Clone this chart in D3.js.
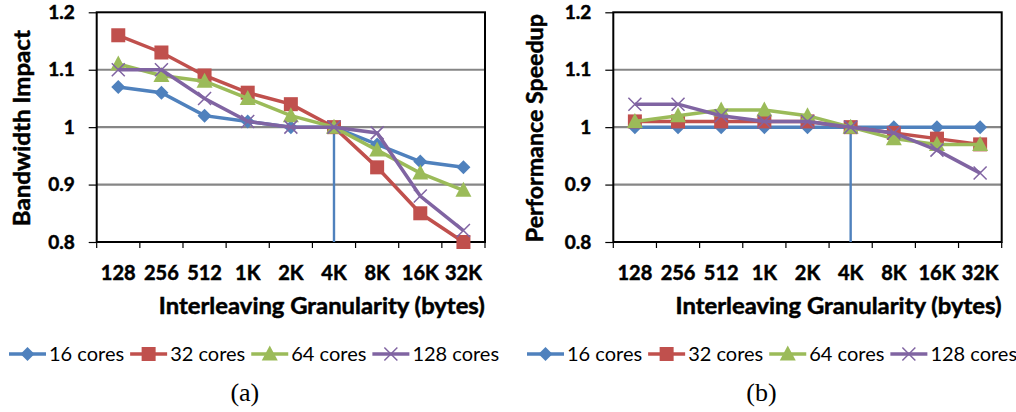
<!DOCTYPE html>
<html>
<head>
<meta charset="utf-8">
<script src="https://cdn.jsdelivr.net/npm/d3@7"></script>
<style>
body { margin: 0; background: #fff; }
text { font-family: "Lato", "Liberation Sans", sans-serif; }
</style>
</head>
<body>
<svg id="chart" width="1016" height="412"></svg>
<script>
// categories on the x axis
var granularities = ["128", "256", "512", "1K", "2K", "4K", "8K", "16K", "32K"];
var seriesNames = ["16 cores", "32 cores", "64 cores", "128 cores"];
var seriesColors = ["#4F81BD", "#C0504D", "#9BBB59", "#8064A2"];
var seriesMarkers = ["diamond", "square", "triangle", "cross"];
var yTicks = [0.8, 0.9, 1, 1.1, 1.2];

// (a) bandwidth impact
var bw16 = [1.07, 1.06, 1.02, 1.01, 1.00, 1.00, 0.97, 0.94, 0.93];
var bw32 = [1.16, 1.13, 1.09, 1.06, 1.04, 1.00, 0.93, 0.85, 0.80];
var bw64 = [1.11, 1.09, 1.08, 1.05, 1.02, 1.00, 0.96, 0.92, 0.89];
var bw128 = [1.10, 1.10, 1.05, 1.01, 1.00, 1.00, 0.99, 0.88, 0.82];

// (b) performance speedup
var sp16 = [1.00, 1.00, 1.00, 1.00, 1.00, 1.00, 1.00, 1.00, 1.00];
var sp32 = [1.01, 1.01, 1.01, 1.01, 1.01, 1.00, 0.99, 0.98, 0.97];
var sp64 = [1.01, 1.02, 1.03, 1.03, 1.02, 1.00, 0.98, 0.97, 0.97];
var sp128 = [1.04, 1.04, 1.02, 1.01, 1.01, 1.00, 0.99, 0.96, 0.92];

var svg = d3.select("#chart");

// draws one marker shape at 0,0 inside g
function addMarker(g, type, color)
{
  if (type == "diamond")
    g.append("path").attr("d", "M0,-7L7,0L0,7L-7,0Z").attr("fill", color);
  else if (type == "square")
    g.append("rect").attr("x", -7).attr("y", -7).attr("width", 14).attr("height", 14).attr("fill", color);
  else if (type == "triangle")
    g.append("path").attr("d", "M0,-8.5L8,6.5L-8,6.5Z").attr("fill", color);
  else
    g.append("path").attr("d", "M-6.5,-6.5L6.5,6.5M-6.5,6.5L6.5,-6.5").attr("stroke", color).attr("stroke-width", 1.5).attr("fill", "none");
}

// bold-ish text like the original heavy sans
function heavy(sel)
{
  sel.attr("font-weight", "bold").attr("stroke", "#000").attr("stroke-width", 0.5).attr("fill", "#000");
}

function drawPanel(left, right, yTitle, yTitleX, yTitleLen, data, caption, legendX)
{
  var top = 12.3, bottom = 242;
  var x = d3.scaleBand().domain(granularities).range([left, right]);
  var y = d3.scaleLinear().domain([0.8, 1.2]).range([bottom, top]);
  var g = svg.append("g");

  // gridlines
  g.selectAll(".grid").data(yTicks.filter(function(d){ return d > 0.8 && d < 1.2; }))
    .enter().append("line")
    .attr("x1", left).attr("x2", right)
    .attr("y1", function(d){ return y(d); }).attr("y2", function(d){ return y(d); })
    .attr("stroke", "#868686").attr("stroke-width", 2.2);

  // plot border
  g.append("rect").attr("x", left).attr("y", top)
    .attr("width", right - left).attr("height", bottom - top)
    .attr("fill", "none").attr("stroke", "#000").attr("stroke-width", 2);

  // y axis
  var yAxis = g.append("g").attr("transform", "translate(" + left + ",0)")
    .call(d3.axisLeft(y).tickValues(yTicks).tickSize(8).tickPadding(14)
      .tickFormat(function(d){ return d == 1 ? "1" : d3.format(".1f")(d); }));
  yAxis.select(".domain").remove();
  yAxis.selectAll("line").attr("stroke", "#000").attr("stroke-width", 1.2);
  yAxis.selectAll("text").attr("font-size", 19).style("font-family", "Lato").call(heavy);

  // x axis tick marks at band edges
  var edges = granularities.map(function(d){ return x(d); }).concat([right]);
  g.selectAll(".xt").data(edges).enter().append("line")
    .attr("x1", function(d){ return d; }).attr("x2", function(d){ return d; })
    .attr("y1", bottom).attr("y2", bottom + 6)
    .attr("stroke", "#000").attr("stroke-width", 1.2);

  g.selectAll(".xl").data(granularities).enter().append("text")
    .attr("x", function(d){ return x(d) + x.bandwidth() / 2; })
    .attr("y", 280)
    .attr("text-anchor", "middle")
    .attr("font-size", 20)
    .text(function(d){ return d; })
    .call(heavy);

  // axis titles
  g.append("text").attr("x", left + (right - left) / 2 + 31).attr("y", 314)
    .attr("text-anchor", "middle").attr("font-size", 23)
    .attr("textLength", 326).attr("lengthAdjust", "spacingAndGlyphs")
    .text("Interleaving Granularity (bytes)").call(heavy);
  g.append("text")
    .attr("transform", "translate(" + yTitleX + "," + ((top + bottom) / 2 + 1) + ") rotate(-90)")
    .attr("text-anchor", "middle").attr("font-size", 23)
    .attr("textLength", yTitleLen).attr("lengthAdjust", "spacingAndGlyphs")
    .text(yTitle).call(heavy);

  // 4K reference line
  g.append("line")
    .attr("x1", x("4K") + x.bandwidth() / 2).attr("x2", x("4K") + x.bandwidth() / 2)
    .attr("y1", y(1)).attr("y2", bottom)
    .attr("stroke", seriesColors[0]).attr("stroke-width", 2.4);

  var line = d3.line()
    .x(function(d, i){ return x(granularities[i]) + x.bandwidth() / 2; })
    .y(function(d){ return y(d); });

  data.forEach(function(values, s)
  {
    g.append("path").attr("d", line(values))
      .attr("fill", "none").attr("stroke", seriesColors[s]).attr("stroke-width", 3.5);
    values.forEach(function(v, i)
    {
      var m = g.append("g").attr("transform", "translate(" + (x(granularities[i]) + x.bandwidth() / 2) + "," + y(v) + ")");
      addMarker(m, seriesMarkers[s], seriesColors[s]);
    });
  });

  // legend
  var lx = legendX;
  seriesNames.forEach(function(name, s)
  {
    var lg = g.append("g").attr("transform", "translate(" + lx + ",354)");
    lg.append("line").attr("x1", 0).attr("x2", 37).attr("stroke", seriesColors[s]).attr("stroke-width", 3.5);
    var m = lg.append("g").attr("transform", "translate(18.5,0)");
    addMarker(m, seriesMarkers[s], seriesColors[s]);
    var t = lg.append("text").attr("x", 40).attr("y", 7).attr("font-size", 20).text(name);
    lx += 40 + t.node().getComputedTextLength() + 6;
  });

  // caption
  svg.append("text").attr("x", (left + right) / 2 - 46).attr("y", 401)
    .attr("text-anchor", "middle").attr("font-size", 26)
    .style("font-family", "'Liberation Serif', serif")
    .text(caption);
}

drawPanel(96.7, 485, "Bandwidth Impact", 30, 196, [bw16, bw32, bw64, bw128], "(a)", 9);
drawPanel(613.3, 1001.7, "Performance Speedup", 543, 228, [sp16, sp32, sp64, sp128], "(b)", 527);
</script>
</body>
</html>
